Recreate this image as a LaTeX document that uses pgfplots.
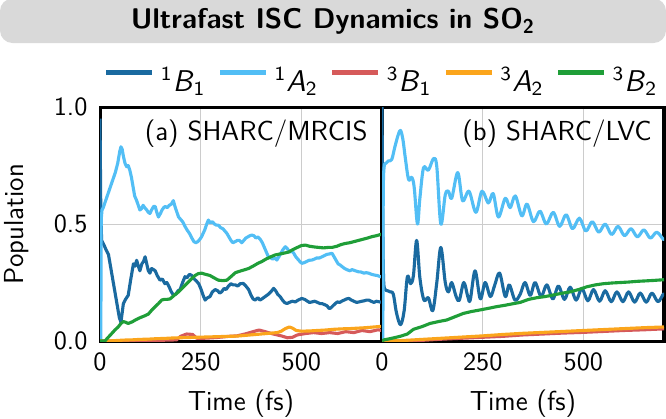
\documentclass[border=0pt]{standalone}
\usepackage{fontspec}
\usepackage{pgfplots}
\pgfplotsset{compat=1.18}
\renewcommand{\familydefault}{\sfdefault}
\definecolor{cBa}{HTML}{1A6AA0}
\definecolor{cAb}{HTML}{52BEF5}
\definecolor{tBa}{HTML}{D65A5A}
\definecolor{tAb}{HTML}{FBA51C}
\definecolor{tBb}{HTML}{1F9E38}
\definecolor{titlegray}{HTML}{D9D9D9}
\pgfplotsset{
  panel/.style={
    scale only axis, width=112.8pt, height=93.6pt,
    xmin=0, xmax=700, ymin=0, ymax=1,
    xtick={0,250,500}, ytick={0,0.5,1},
    yticklabel style={/pgf/number format/fixed, /pgf/number format/fixed zerofill, /pgf/number format/precision=1},
    /pgf/number format/assume math mode=true,
    grid=major, major grid style={black!20, line width=0.4pt},
    tick style={draw=none},
    axis line style={line width=1.2pt},
    ticklabel style={font=\fontsize{10.5}{12}\selectfont},
    xticklabel style={yshift=-1pt},
    yticklabel style={xshift=-1.5pt},
    xlabel={Time (fs)},
    every axis x label/.style={at={(axis description cs:0.5,0)}, anchor=base, yshift=-27.6pt, font=\fontsize{11}{13}\selectfont},
    every axis plot/.append style={line width=1.25pt, line join=round},
  }
}
\begin{document}
\begin{tikzpicture}
\useasboundingbox (-40pt,-30.8pt) rectangle (226.4pt,136.4pt);
\fill[titlegray, rounded corners=5pt] (-40pt,119.2pt) rectangle (226.4pt,137pt);
\node[font=\fontsize{11.4}{13}\selectfont\bfseries] at (93.2pt,127.8pt) {Ultrafast ISC Dynamics in SO\textsubscript{2}};
\begin{axis}[panel, at={(0pt,0pt)}, anchor=south west,
  ylabel={Population},
  every axis y label/.style={at={(axis description cs:-0.296,0.5)}, rotate=90, anchor=center, font=\fontsize{11}{13}\selectfont},
  legend columns=5,
  legend style={at={(axis description cs:0.995,1.112)}, anchor=center, draw=none, fill=none,
    font=\fontsize{12}{14}\selectfont, inner sep=0pt, nodes={inner sep=0pt},
    /tikz/every odd column/.append style={column sep=2.4pt},
    /tikz/every even column/.append style={column sep=4.8pt}},
  legend image code/.code={\draw[#1, line width=2pt] (0pt,0.35em) -- (18.4pt,0.35em);},
]
\addplot[cBa] coordinates {(0,0.95) (2,0.55) (4,0.43) (10,0.41) (15,0.39) (21,0.37) (28,0.30) (35,0.23) (42,0.16) (48,0.10) (52,0.08) (55,0.12) (58,0.16) (64,0.18) (70,0.195) (76,0.26) (83,0.33) (87,0.32) (91,0.345) (95,0.32) (99,0.30) (104,0.33) (108,0.34) (112,0.36) (116,0.33) (120,0.30) (124,0.29) (128,0.31) (133,0.305) (137,0.30) (142,0.28) (149,0.26) (155,0.265) (161,0.245) (166,0.25) (172,0.23) (177,0.21) (182,0.197) (188,0.20) (194,0.215) (199,0.22) (205,0.25) (211,0.275) (216,0.27) (222,0.285) (228,0.28) (234,0.265) (240,0.255) (245,0.245) (250,0.225) (256,0.195) (261,0.175) (267,0.185) (273,0.19) (279,0.21) (286,0.22) (292,0.215) (297,0.205) (302,0.21) (308,0.225) (313,0.22) (319,0.235) (325,0.245) (330,0.24) (336,0.24) (342,0.235) (348,0.245) (356,0.246) (362,0.235) (369,0.22) (375,0.195) (380,0.18) (385,0.175) (392,0.185) (397,0.175) (402,0.18) (410,0.19) (418,0.20) (424,0.21) (431,0.225) (436,0.215) (441,0.20) (447,0.19) (453,0.175) (458,0.165) (464,0.16) (470,0.165) (477,0.17) (485,0.167) (492,0.175) (501,0.182) (508,0.178) (515,0.17) (520,0.165) (526,0.167) (533,0.17) (540,0.165) (546,0.16) (551,0.16) (558,0.155) (564,0.15) (568,0.14) (572,0.14) (578,0.15) (584,0.16) (589,0.167) (595,0.165) (600,0.17) (606,0.175) (612,0.18) (618,0.182) (624,0.175) (630,0.17) (637,0.165) (643,0.167) (650,0.17) (656,0.172) (662,0.175) (667,0.175) (673,0.17) (680,0.165) (686,0.17) (692,0.168) (700,0.165)};
\addlegendentry{\textsuperscript{1}\textit{B}\textsubscript{1}}
\addplot[cAb] coordinates {(0,0) (2,0.0) (3,0.52) (5,0.56) (8,0.57) (14,0.6) (20,0.63) (26,0.66) (32,0.69) (38,0.72) (44,0.76) (49,0.81) (52,0.83) (55,0.82) (58,0.79) (62,0.76) (66,0.745) (70,0.75) (74,0.73) (78,0.70) (82,0.66) (86,0.62) (91,0.60) (95,0.58) (99,0.56) (103,0.565) (107,0.58) (111,0.57) (116,0.56) (120,0.55) (124,0.545) (128,0.56) (133,0.575) (137,0.575) (141,0.55) (145,0.53) (150,0.545) (154,0.56) (158,0.57) (162,0.575) (167,0.57) (172,0.58) (177,0.585) (182,0.60) (187,0.57) (191,0.55) (195,0.53) (200,0.52) (205,0.51) (211,0.49) (216,0.475) (222,0.46) (228,0.44) (233,0.425) (238,0.42) (243,0.425) (248,0.435) (252,0.445) (256,0.46) (260,0.475) (265,0.50) (269,0.517) (274,0.505) (279,0.51) (284,0.50) (289,0.495) (294,0.495) (299,0.485) (305,0.48) (310,0.47) (315,0.46) (320,0.445) (325,0.43) (330,0.42) (336,0.425) (341,0.43) (346,0.43) (352,0.42) (357,0.43) (362,0.44) (367,0.445) (372,0.45) (377,0.453) (382,0.45) (387,0.44) (392,0.445) (398,0.434) (403,0.42) (408,0.40) (413,0.38) (418,0.36) (424,0.355) (429,0.35) (434,0.355) (439,0.346) (444,0.36) (449,0.375) (454,0.39) (460,0.403) (465,0.395) (470,0.38) (476,0.385) (481,0.375) (486,0.36) (491,0.35) (496,0.34) (501,0.332) (507,0.335) (513,0.34) (519,0.345) (526,0.346) (532,0.35) (538,0.355) (545,0.355) (551,0.36) (557,0.365) (563,0.37) (569,0.372) (576,0.375) (581,0.36) (586,0.345) (591,0.33) (596,0.325) (601,0.318) (607,0.31) (613,0.305) (620,0.30) (626,0.305) (634,0.30) (641,0.296) (648,0.295) (655,0.29) (661,0.292) (667,0.29) (674,0.285) (681,0.282) (688,0.28) (696,0.275) (700,0.274)};
\addlegendentry{\textsuperscript{1}\textit{A}\textsubscript{2}}
\addplot[tBa] coordinates {(0,0) (100,0) (150,0.003) (190,0.005) (200,0.02) (215,0.03) (230,0.028) (240,0.012) (260,0.012) (290,0.015) (320,0.02) (340,0.022) (360,0.03) (380,0.04) (395,0.047) (410,0.04) (430,0.03) (450,0.022) (465,0.014) (478,0.016) (490,0.026) (510,0.032) (530,0.036) (550,0.032) (570,0.036) (590,0.032) (610,0.04) (630,0.036) (650,0.045) (670,0.04) (690,0.048) (700,0.045)};
\addlegendentry{\textsuperscript{3}\textit{B}\textsubscript{1}}
\addplot[tAb] coordinates {(0,0) (20,0.0) (40,0.002) (60,0.004) (80,0.005) (100,0.007) (120,0.008) (140,0.01) (160,0.011) (180,0.013) (200,0.014) (220,0.015) (240,0.016) (260,0.017) (280,0.018) (300,0.019) (320,0.02) (340,0.021) (360,0.024) (380,0.027) (400,0.03) (420,0.033) (440,0.036) (450,0.042) (460,0.053) (470,0.06) (478,0.055) (487,0.045) (500,0.042) (520,0.043) (540,0.045) (560,0.047) (580,0.05) (600,0.052) (620,0.053) (640,0.055) (660,0.057) (680,0.06) (700,0.063)};
\addlegendentry{\textsuperscript{3}\textit{A}\textsubscript{2}}
\addplot[tBb] coordinates {(0,0) (12,0.0) (20,0.015) (28,0.03) (37,0.047) (45,0.06) (52,0.075) (58,0.083) (64,0.08) (70,0.075) (80,0.082) (90,0.092) (100,0.10) (110,0.107) (120,0.115) (130,0.135) (137,0.147) (145,0.16) (153,0.175) (160,0.178) (167,0.178) (174,0.18) (184,0.195) (195,0.21) (205,0.227) (215,0.245) (225,0.262) (236,0.28) (244,0.288) (252,0.29) (262,0.285) (273,0.28) (283,0.27) (294,0.26) (305,0.258) (315,0.26) (325,0.275) (336,0.292) (350,0.30) (360,0.305) (369,0.31) (380,0.32) (392,0.332) (402,0.34) (412,0.35) (424,0.36) (435,0.368) (447,0.372) (458,0.376) (468,0.38) (478,0.39) (490,0.40) (500,0.408) (510,0.41) (520,0.405) (532,0.402) (543,0.40) (555,0.398) (566,0.40) (576,0.40) (588,0.405) (598,0.412) (609,0.417) (620,0.42) (631,0.425) (642,0.43) (653,0.435) (664,0.44) (675,0.446) (686,0.45) (696,0.455) (700,0.457)};
\addlegendentry{\textsuperscript{3}\textit{B}\textsubscript{2}}
\node[anchor=north east, inner sep=0pt, font=\fontsize{11}{13}\selectfont] at (rel axis cs:1,1) [xshift=-5.6pt, yshift=-5pt] {(a) SHARC/MRCIS};
\end{axis}
\begin{axis}[panel, at={(112.8pt,0pt)}, anchor=south west,
  yticklabels={}]
\addplot[cBa, smooth, tension=0.55] coordinates {(0,1.0) (2,0.5) (4,0.26) (8,0.22) (14,0.215) (20,0.21) (28,0.20) (36,0.12) (46,0.07) (55,0.13) (63,0.275) (71,0.245) (78,0.28) (86,0.43) (94,0.27) (104,0.175) (115,0.185) (126,0.13) (136,0.25) (146,0.40) (157,0.25) (165,0.21) (173,0.25) (184,0.19) (192,0.175) (203,0.25) (213,0.19) (219,0.175) (231,0.30) (244,0.18) (256,0.25) (269,0.19) (280,0.24) (292,0.29) (306,0.19) (316,0.24) (330,0.175) (343,0.20) (355,0.25) (368,0.195) (380,0.25) (395,0.19) (409,0.24) (424,0.18) (438,0.235) (453,0.178) (467,0.23) (482,0.175) (496,0.225) (511,0.172) (525,0.22) (540,0.17) (554,0.215) (569,0.168) (583,0.21) (598,0.168) (612,0.21) (627,0.166) (641,0.205) (656,0.166) (670,0.205) (685,0.168) (698,0.2) (700,0.198)};
\addplot[cAb, smooth, tension=0.55] coordinates {(0,0) (2,0.0) (3,0.6) (5,0.74) (10,0.76) (16,0.77) (24,0.775) (32,0.83) (40,0.88) (46,0.90) (52,0.86) (58,0.78) (66,0.69) (74,0.70) (80,0.655) (88,0.50) (94,0.61) (103,0.74) (115,0.73) (128,0.78) (136,0.745) (146,0.50) (157,0.625) (165,0.64) (173,0.61) (188,0.72) (200,0.60) (216,0.64) (233,0.55) (248,0.64) (264,0.59) (276,0.63) (289,0.53) (306,0.61) (318,0.57) (331,0.62) (347,0.535) (360,0.585) (376,0.51) (392,0.555) (408,0.50) (425,0.55) (441,0.49) (457,0.54) (473,0.48) (490,0.525) (506,0.47) (522,0.51) (538,0.465) (554,0.50) (570,0.455) (586,0.49) (602,0.45) (618,0.48) (634,0.445) (650,0.475) (666,0.44) (682,0.465) (698,0.435) (700,0.437)};
\addplot[tBa] coordinates {(0,0) (50,0.0) (100,0.003) (150,0.008) (200,0.012) (250,0.016) (300,0.02) (350,0.026) (400,0.03) (450,0.034) (500,0.037) (550,0.041) (600,0.045) (650,0.048) (700,0.052)};
\addplot[tAb] coordinates {(0,0) (50,0.002) (100,0.007) (150,0.012) (200,0.017) (250,0.022) (300,0.028) (350,0.033) (400,0.037) (450,0.041) (500,0.045) (550,0.049) (600,0.053) (650,0.057) (700,0.06)};
\addplot[tBb] coordinates {(0,0) (5,0.005) (20,0.01) (45,0.02) (63,0.03) (78,0.05) (100,0.062) (119,0.075) (140,0.083) (161,0.09) (180,0.103) (202,0.118) (222,0.126) (244,0.133) (265,0.14) (285,0.147) (306,0.153) (327,0.16) (343,0.165) (364,0.178) (384,0.185) (405,0.19) (426,0.197) (446,0.204) (467,0.21) (488,0.22) (509,0.232) (530,0.24) (550,0.245) (571,0.248) (592,0.25) (612,0.252) (633,0.255) (655,0.257) (675,0.259) (700,0.262)};
\node[anchor=north east, inner sep=0pt, font=\fontsize{11}{13}\selectfont] at (rel axis cs:1,1) [xshift=-4.8pt, yshift=-5pt] {(b) SHARC/LVC};
\end{axis}
\end{tikzpicture}
\end{document}
